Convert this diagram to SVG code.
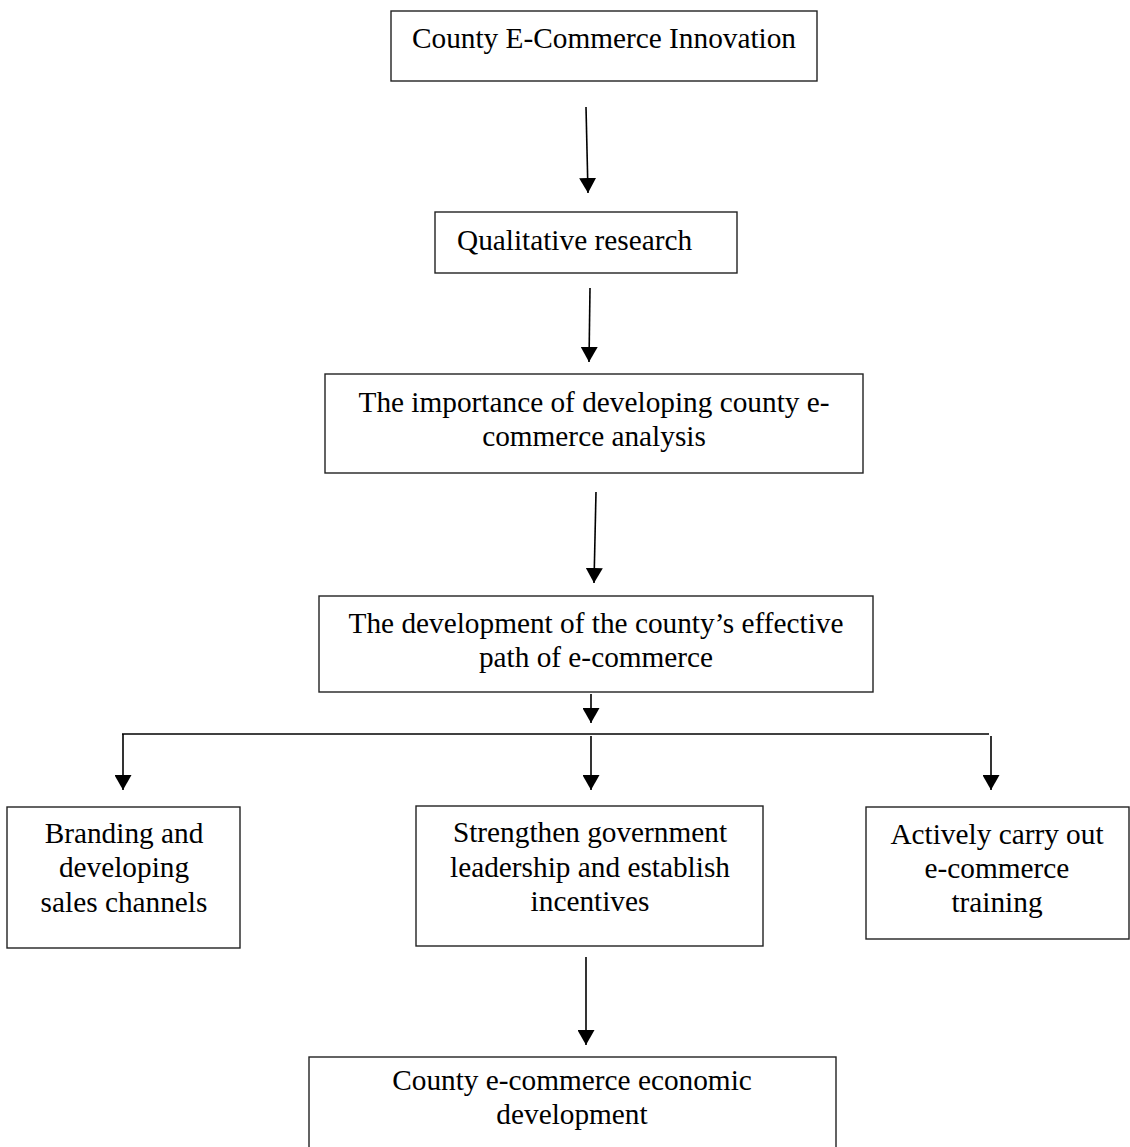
<svg xmlns="http://www.w3.org/2000/svg" width="1130" height="1147" viewBox="0 0 1130 1147">
  <style>
    .box { fill: #ffffff; stroke: #222222; stroke-width: 1.4; }
    .lbl { font-family: "Liberation Serif", "Times New Roman", serif; font-size: 29.3px; fill: #000000; text-anchor: middle; }
    .conn { stroke: #000000; stroke-width: 1.6; fill: none; }
  </style>
  <defs>
    <marker id="arrow" viewBox="0 0 15 17" refX="15" refY="8.5" markerWidth="15" markerHeight="17" markerUnits="userSpaceOnUse" orient="auto">
      <path d="M0,0 L15,8.5 L0,17 z" fill="#000000"/>
    </marker>
  </defs>
  <rect width="1130" height="1147" fill="#ffffff"/>

  <g id="connectors">
    <line class="conn" x1="586" y1="107" x2="588" y2="193" marker-end="url(#arrow)"/>
    <line class="conn" x1="590" y1="288" x2="589" y2="362" marker-end="url(#arrow)"/>
    <line class="conn" x1="596" y1="492" x2="594" y2="583" marker-end="url(#arrow)"/>
    <line class="conn" x1="591" y1="694" x2="591" y2="723" marker-end="url(#arrow)"/>
    <line class="conn" x1="122" y1="734" x2="989" y2="734"/>
    <line class="conn" x1="123" y1="734" x2="123" y2="790" marker-end="url(#arrow)"/>
    <line class="conn" x1="591" y1="736" x2="591" y2="790" marker-end="url(#arrow)"/>
    <line class="conn" x1="991" y1="736" x2="991" y2="790" marker-end="url(#arrow)"/>
    <line class="conn" x1="586" y1="957" x2="586" y2="1045" marker-end="url(#arrow)"/>
  </g>

  <g id="node-innovation">
    <rect class="box" x="391" y="11" width="426" height="70"/>
    <text class="lbl" x="604" y="48">County E-Commerce Innovation</text>
  </g>

  <g id="node-qualitative">
    <rect class="box" x="435" y="212" width="302" height="61"/>
    <text class="lbl" x="457" y="250" style="text-anchor:start">Qualitative research</text>
  </g>

  <g id="node-importance">
    <rect class="box" x="325" y="374" width="538" height="99"/>
    <text class="lbl" x="594" y="412">The importance of developing county e-</text>
    <text class="lbl" x="594" y="446">commerce analysis</text>
  </g>

  <g id="node-path">
    <rect class="box" x="319" y="596" width="554" height="96"/>
    <text class="lbl" x="596" y="633">The development of the county’s effective</text>
    <text class="lbl" x="596" y="667">path of e-commerce</text>
  </g>

  <g id="node-branding">
    <rect class="box" x="7" y="807" width="233" height="141"/>
    <text class="lbl" x="124" y="843">Branding and</text>
    <text class="lbl" x="124" y="877">developing</text>
    <text class="lbl" x="124" y="912">sales channels</text>
  </g>

  <g id="node-government">
    <rect class="box" x="416" y="806" width="347" height="140"/>
    <text class="lbl" x="590" y="842">Strengthen government</text>
    <text class="lbl" x="590" y="877">leadership and establish</text>
    <text class="lbl" x="590" y="911">incentives</text>
  </g>

  <g id="node-training">
    <rect class="box" x="866" y="807" width="263" height="132"/>
    <text class="lbl" x="997" y="844">Actively carry out</text>
    <text class="lbl" x="997" y="878">e-commerce</text>
    <text class="lbl" x="997" y="912">training</text>
  </g>

  <g id="node-economic">
    <rect class="box" x="309" y="1057" width="527" height="100"/>
    <text class="lbl" x="572" y="1090">County e-commerce economic</text>
    <text class="lbl" x="572" y="1124">development</text>
  </g>
</svg>
